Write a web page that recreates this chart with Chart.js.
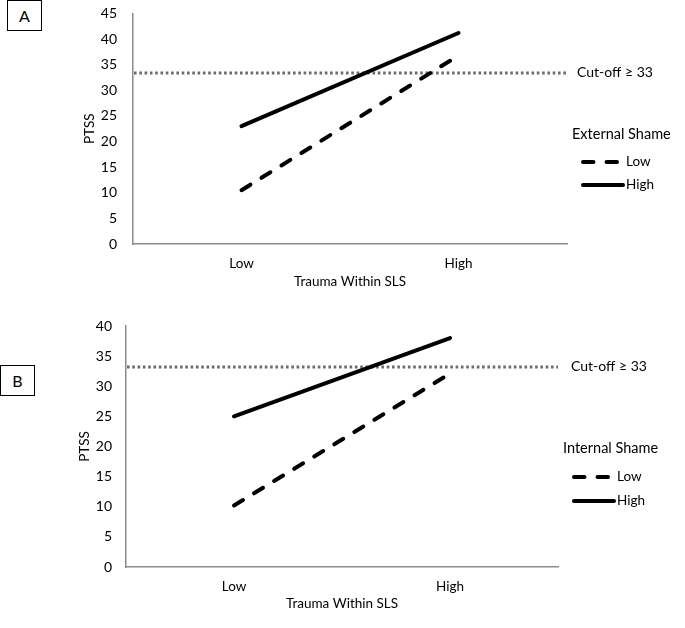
<!DOCTYPE html>
<html>
<head>
<meta charset="utf-8">
<script src="https://cdn.jsdelivr.net/npm/chart.js@4"></script>
<style>
  html, body { margin: 0; padding: 0; background: #fff; }
  body { width: 685px; height: 628px; position: relative; overflow: hidden; font-family: Lato, "Open Sans", sans-serif; }
  .wrap { position: absolute; left: 0; width: 685px; }
  .panel-label { position: absolute; border: 1.5px solid #000; box-sizing: border-box; font-size: 16px; color: #000;
                 display: flex; align-items: center; justify-content: center; background: #fff; }
</style>
</head>
<body>
<div class="wrap" style="top:0;height:300px;"><canvas id="chartA"></canvas></div>
<div class="wrap" style="top:310px;height:318px;"><canvas id="chartB"></canvas></div>
<div class="panel-label" style="left:7px;top:0px;width:35px;height:31px;">A</div>
<div class="panel-label" style="left:0px;top:365px;width:35px;height:31px;">B</div>
<script>
// ---- Data ----
const categories = ["Low", "High"];
const xAxisTitle = "Trauma Within SLS";
const yAxisTitle = "PTSS";
const cutoffLabel = "Cut-off \u2265 33";

const panelA_legendTitle = "External Shame";
const panelA_low = [10.5, 36.8];
const panelA_high = [23, 41.2];
const panelA_cutoff = 33.4;
const panelA_yMax = 45;

const panelB_legendTitle = "Internal Shame";
const panelB_low = [10.2, 32.1];
const panelB_high = [25, 38];
const panelB_cutoff = 33.2;
const panelB_yMax = 40;

const seriesNames = ["Low", "High"];
const yStep = 5;

const FONT = "Lato, 'Open Sans', sans-serif";
const DASH = [10.5, 13];

function overlayPlugin(cfg) {
  return {
    id: 'overlay' + cfg.id,
    beforeDatasetsDraw(chart) {
      const ctx = chart.ctx, a = chart.chartArea, y = chart.scales.y;
      const yy = y.getPixelForValue(cfg.cutoff);
      ctx.save();
      ctx.strokeStyle = '#6b6b6b';
      ctx.lineWidth = 3;
      ctx.setLineDash([2.6, 2.7]);
      ctx.beginPath();
      ctx.moveTo(a.left + 1, yy);
      ctx.lineTo(a.right, yy);
      ctx.stroke();
      ctx.restore();
    },
    afterDraw(chart) {
      const ctx = chart.ctx, a = chart.chartArea, y = chart.scales.y;
      const yy = y.getPixelForValue(cfg.cutoff);
      ctx.save();
      ctx.fillStyle = '#000';
      ctx.textBaseline = 'middle';
      ctx.textAlign = 'left';
      ctx.font = '14px ' + FONT;
      ctx.fillText(cutoffLabel, a.right + cfg.cutDx, yy);
      ctx.font = '14.5px ' + FONT;
      ctx.fillText(cfg.legendTitle, a.right + 5, cfg.legY[0]);
      ctx.font = '13.5px ' + FONT;
      const ds = chart.data.datasets;
      for (let i = 0; i < ds.length; i++) {
        const ly = cfg.legY[i + 1];
        ctx.strokeStyle = '#000';
        ctx.lineWidth = 4;
        ctx.lineCap = 'round';
        ctx.setLineDash(ds[i].borderDash || []);
        ctx.beginPath();
        ctx.moveTo(a.right + 16, ly);
        ctx.lineTo(a.right + (ds[i].borderDash && ds[i].borderDash.length ? 50 : 56), ly);
        ctx.stroke();
        ctx.setLineDash([]);
        ctx.fillText(ds[i].label, a.right + 59, ly);
      }
      ctx.restore();
    }
  };
}

function makeChart(id, low, high, yMax, target, pad, yWidth, tickPad, titlePadTop, xH, titlePadBottom, cfg) {
  const chart = new Chart(document.getElementById(id), {
    type: 'line',
    data: {
      labels: categories,
      datasets: [
        { label: seriesNames[0], data: low, borderColor: '#000', borderWidth: 4, borderDash: DASH,
          borderCapStyle: 'round', pointRadius: 0, fill: false, tension: 0 },
        { label: seriesNames[1], data: high, borderColor: '#000', borderWidth: 4,
          borderCapStyle: 'round', pointRadius: 0, fill: false, tension: 0 }
      ]
    },
    options: {
      responsive: true,
      maintainAspectRatio: false,
      animation: false,
      events: [],
      layout: { padding: pad },
      plugins: { legend: { display: false }, tooltip: { enabled: false } },
      scales: {
        x: {
          type: 'category',
          offset: true,
          grid: { display: false, drawTicks: false },
          border: { display: true, color: '#8c8c8c', width: 1.5 },
          ticks: { color: '#000', font: { family: FONT, size: 13.5 }, padding: 12, maxRotation: 0 },
          title: { display: true, text: xAxisTitle, color: '#000', font: { family: FONT, size: 13.5 },
                   padding: { top: 0, bottom: titlePadBottom } },
          afterFit(s) { s.height = xH; s.paddingLeft = 0; s.paddingRight = 0; }
        },
        y: {
          min: 0, max: yMax,
          grid: { display: false, drawTicks: false },
          border: { display: true, color: '#8c8c8c', width: 1.5 },
          ticks: { stepSize: yStep, color: '#000', font: { family: FONT, size: 14 }, padding: tickPad },
          title: { display: true, text: yAxisTitle, color: '#000', font: { family: FONT, size: 13.5 },
                   padding: { top: titlePadTop, bottom: 0 } },
          afterFit(s) { s.width = yWidth; s.paddingTop = 0; s.paddingBottom = 0; }
        }
      }
    },
    plugins: [overlayPlugin(cfg)]
  });
  // nudge layout padding (raw config) so the plot area lands where the reference has it
  for (let k = 0; k < 3; k++) {
    const a = chart.chartArea;
    const p = chart.config.options.layout.padding;
    const dT = target.top - a.top, dB = a.bottom - target.bottom;
    const dL = target.left - a.left, dR = a.right - target.right;
    if (Math.abs(dT) + Math.abs(dB) + Math.abs(dL) + Math.abs(dR) < 0.2) break;
    p.top += dT; p.bottom += dB; p.left += dL; p.right += dR;
    chart.update();
  }
  return chart;
}

// Panel A: chart area left 133, right 567, top 13.5, bottom 244 (canvas height 300)
makeChart('chartA', panelA_low, panelA_high, panelA_yMax,
  { left: 133, right: 567, top: 13.5, bottom: 244 },
  { left: 75, right: 118, top: 13.5, bottom: 6 }, 58, 16, 7, 50, 4,
  { id: 'A', cutoff: panelA_cutoff, legendTitle: panelA_legendTitle, cutDx: 10, legY: [134, 162, 185] });

// Panel B: chart area left 126, right 558, top 16, bottom 257 (canvas height 318)
makeChart('chartB', panelB_low, panelB_high, panelB_yMax,
  { left: 126, right: 558, top: 16, bottom: 257 },
  { left: 70, right: 127, top: 16, bottom: 11 }, 56, 14, 7, 50, 5,
  { id: 'B', cutoff: panelB_cutoff, legendTitle: panelB_legendTitle, cutDx: 13, legY: [138, 167, 191] });
</script>
</body>
</html>
